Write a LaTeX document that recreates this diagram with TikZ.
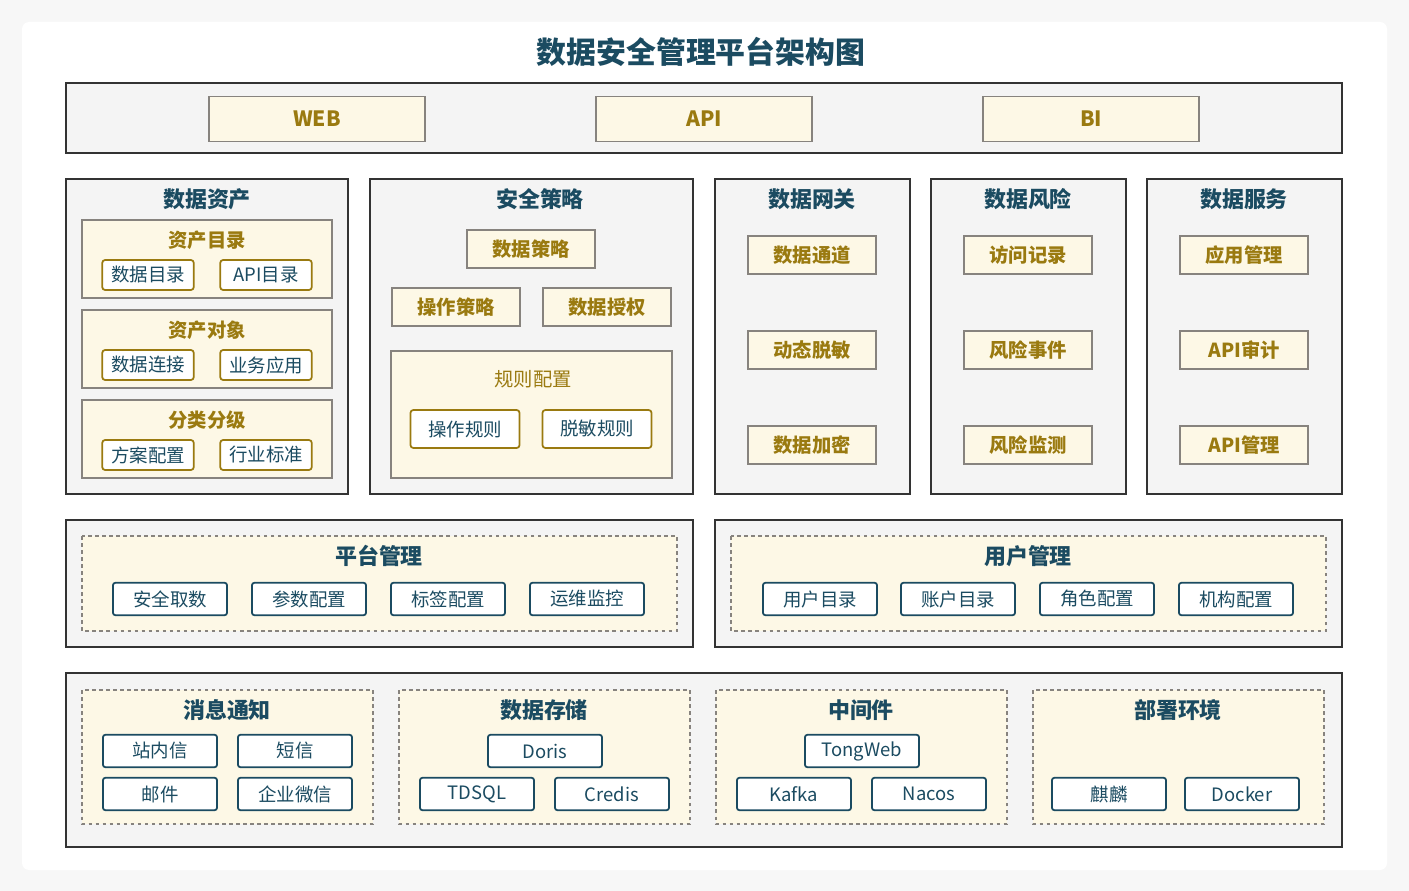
\documentclass[tikz,border=0pt]{standalone}
\usepackage{fontspec}
\setmainfont{Noto Sans CJK SC}
\definecolor{teal}{HTML}{1B4B61}
\definecolor{gold}{HTML}{9A7A10}
\definecolor{goldfill}{HTML}{FDF8E6}
\definecolor{panelfill}{HTML}{F4F4F4}
\definecolor{panelline}{HTML}{333333}
\definecolor{subline}{HTML}{87837E}
\tikzset{
  panel/.style={draw=panelline, fill=panelfill, line width=1.1pt},
  subbox/.style={draw=subline, fill=goldfill, line width=1pt},
  dashbox/.style={draw=subline, fill=goldfill, line width=0.8pt, dash pattern=on 2pt off 2pt},
  head/.style={text=teal, font=\bfseries\fontsize{12.5}{14}\selectfont},
  subhead/.style={text=gold, font=\bfseries\fontsize{11}{13}\selectfont},
  item/.style={draw=subline, fill=goldfill, line width=1pt, text=gold,
    font=\bfseries\fontsize{11}{13}\selectfont, minimum width=72.5pt, minimum height=21.5pt, inner sep=0pt},
  btn/.style={draw=gold, fill=white, line width=1pt, rounded corners=1.5pt, text=teal,
    font=\fontsize{10.5}{12}\selectfont, minimum width=52pt, minimum height=17pt, inner sep=0pt},
  tbtn/.style={draw=teal, fill=white, line width=1pt, rounded corners=1.5pt, text=teal,
    font=\fontsize{10.5}{12}\selectfont, minimum width=65pt, minimum height=18.5pt, inner sep=0pt},
}
\begin{document}
\begin{tikzpicture}[x=0.02cm, y=-0.02cm]
    \fill[white!97!black] (0, 0) rectangle (1409, 891);
    \fill[white, rounded corners=4pt] (22, 22) rectangle (1387, 870);
    \useasboundingbox (0, 0) rectangle (1409, 891);

    \node[text=teal, font=\bfseries\fontsize{17}{20}\selectfont] (title) at (701, 52) {数据安全管理平台架构图};

    % top band
    \draw[panel] (66, 83) rectangle (1342, 153);
    \node[item, minimum width=123pt, minimum height=25.5pt, font=\bfseries\fontsize{12}{14}\selectfont] (web) at (317, 119) {WEB};
    \node[item, minimum width=123pt, minimum height=25.5pt, font=\bfseries\fontsize{12}{14}\selectfont] (api) at (704, 119) {API};
    \node[item, minimum width=123pt, minimum height=25.5pt, font=\bfseries\fontsize{12}{14}\selectfont] (bi) at (1091, 119) {BI};

    % data assets
    \draw[panel] (66, 179) rectangle (348, 494);
    \node[head] (assets) at (207, 199) {数据资产};
    \foreach \y/\t/\a/\b [count=\i] in {220/资产目录/数据目录/API目录, 310/资产对象/数据连接/业务应用, 400/分类分级/方案配置/行业标准} {
        \draw[subbox] (82, \y) rectangle (332, \y+78);
        \node[subhead] (asub\i) at (207, \y+20) {\t};
        \node[btn] (aa\i) at (148, \y+55) {\a};
        \node[btn] (ab\i) at (266, \y+55) {\b};
    }

    % security policy
    \draw[panel] (370, 179) rectangle (693, 494);
    \node[head] (policy) at (540, 199) {安全策略};
    \node[item] (datapolicy) at (531, 249) {数据策略};
    \node[item] (oppolicy) at (456, 307) {操作策略};
    \node[item] (grant) at (607, 307) {数据授权};
    \draw[subbox] (391, 351) rectangle (672, 478);
    \node[subhead, font=\fontsize{11}{13}\selectfont] (rules) at (533, 379) {规则配置};
    \node[btn, minimum width=62pt, minimum height=21.5pt] (oprule) at (465, 429) {操作规则};
    \node[btn, minimum width=62pt, minimum height=21.5pt] (maskrule) at (597, 429) {脱敏规则};

    % three columns
    \foreach \x/\h/\a/\b/\c [count=\i] in {
        715/数据网关/数据通道/动态脱敏/数据加密,
        931/数据风险/访问记录/风险事件/风险监测,
        1147/数据服务/应用管理/API审计/API管理} {
        \draw[panel] (\x, 179) rectangle (\x+195, 494);
        \node[head] (col\i) at (\x+97, 199) {\h};
        \node[item] (ca\i) at (\x+97, 255) {\a};
        \node[item] (cb\i) at (\x+97, 350) {\b};
        \node[item] (cc\i) at (\x+97, 445) {\c};
    }

    % platform / user management
    \draw[panel] (66, 520) rectangle (693, 647);
    \draw[dashbox] (82, 536) rectangle (677, 631);
    \node[head] (platform) at (379, 556) {平台管理};
    \foreach \x/\t [count=\i] in {170/安全取数, 309/参数配置, 448/标签配置, 587/运维监控}
        \node[tbtn] (pm\i) at (\x, 599) {\t};
    \draw[panel] (715, 520) rectangle (1342, 647);
    \draw[dashbox] (731, 536) rectangle (1326, 631);
    \node[head] (users) at (1028, 556) {用户管理};
    \foreach \x/\t [count=\i] in {820/用户目录, 958/账户目录, 1097/角色配置, 1236/机构配置}
        \node[tbtn] (um\i) at (\x, 599) {\t};

    % bottom band
    \draw[panel] (66, 673) rectangle (1342, 847);
    \foreach \x/\h [count=\i] in {82/消息通知, 399/数据存储, 716/中间件, 1033/部署环境} {
        \draw[dashbox] (\x, 690) rectangle (\x+291, 824);
        \node[head] (grp\i) at (\x+145, 710) {\h};
    }
    \node[tbtn] (inbox) at (160, 751) {站内信};
    \node[tbtn] (sms) at (295, 751) {短信};
    \node[tbtn] (mail) at (160, 794) {邮件};
    \node[tbtn] (wecom) at (295, 794) {企业微信};
    \node[tbtn] (doris) at (545, 751) {Doris};
    \node[tbtn] (tdsql) at (477, 794) {TDSQL};
    \node[tbtn] (credis) at (612, 794) {Credis};
    \node[tbtn] (tongweb) at (862, 751) {TongWeb};
    \node[tbtn] (kafka) at (794, 794) {Kafka};
    \node[tbtn] (nacos) at (929, 794) {Nacos};
    \node[tbtn] (kylin) at (1109, 794) {麒麟};
    \node[tbtn] (docker) at (1242, 794) {Docker};
\end{tikzpicture}
\end{document}
